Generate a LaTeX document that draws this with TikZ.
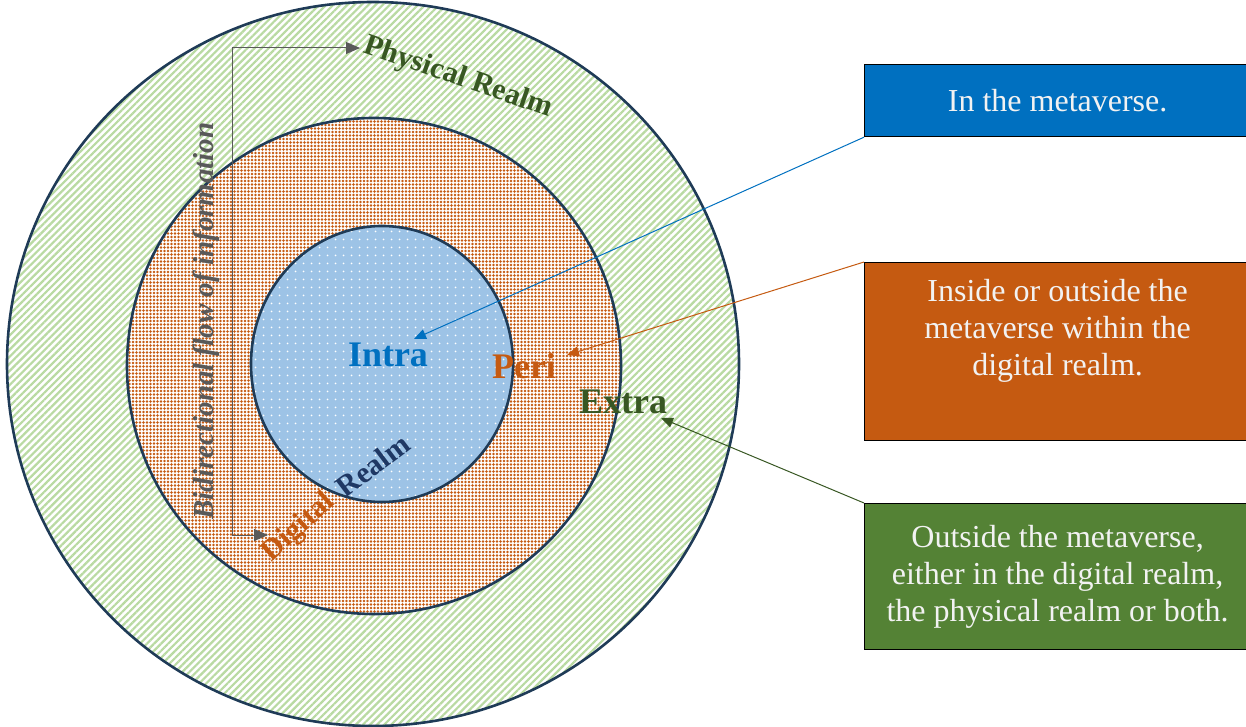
\documentclass[tikz,border=0pt]{standalone}
\usepackage{fontspec}
\setmainfont{Liberation Serif}
\usetikzlibrary{arrows.meta,patterns.meta}
\definecolor{ringline}{HTML}{1F3B57}
\definecolor{kblue}{HTML}{0070C0}
\definecolor{korange}{HTML}{C55A11}
\definecolor{kgreen}{HTML}{548235}
\definecolor{kdarkgreen}{HTML}{385723}
\definecolor{klightgreen}{HTML}{B9DAA2}
\definecolor{klightblue}{HTML}{9DC3E6}
\definecolor{knavy}{HTML}{1F3864}
\definecolor{kgray}{HTML}{595959}
\definecolor{ktext}{HTML}{F2F2F2}
\tikzset{
  ring/.style={draw=ringline, line width=1.3pt},
  boxtext/.style={align=center, text=ktext, font=\fontsize{16}{18.5}\selectfont},
  box/.style={boxtext, draw=black, line width=0.6pt, anchor=north west, minimum width=193pt, inner sep=0pt},
  kzone/.style={font=\fontsize{18}{20}\selectfont\bfseries},
  kring/.style={font=\fontsize{15}{17}\selectfont\bfseries},
  link/.style={-{Triangle[length=6pt, width=5pt]}, line width=0.5pt},
  flow/.style={{Triangle[length=7pt, width=6pt]}-{Triangle[length=7pt, width=6pt]}, line width=0.5pt, draw=kgray},
}
\begin{document}
\begin{tikzpicture}[x=0.5pt, y=-0.5pt]
    \useasboundingbox (0,0) rectangle (1246,727);
    \clip (0,0) rectangle (1246,727);
    \path[preaction={fill=white}, pattern={Lines[angle=45, distance=2.5pt, line width=1.1pt]}, pattern color=klightgreen, ring] (373,364) ellipse [x radius=366, y radius=362];
    \path[preaction={fill=white}, pattern={Dots[radius=0.7pt, distance=1.75pt]}, pattern color=korange, ring] (374,366) ellipse [x radius=247, y radius=248];
    \path[preaction={fill=klightblue}, pattern={Dots[radius=0.55pt, distance=4pt]}, pattern color=white, ring] (382,364) ellipse [x radius=131, y radius=138];
    \node[kzone, text=kblue] (intra) at (388,355) {Intra};
    \node[kzone, text=korange] (peri) at (524,366) {Peri};
    \node[kzone, text=kdarkgreen] (extra) at (623,402) {Extra};
    \node[kring, text=kdarkgreen, rotate=-19] (physical) at (458,78) {Physical Realm};
    \node[kring, text=korange, rotate=42, inner sep=1pt] (digital) at (299,528) {Digital};
    \node[kring, text=knavy, rotate=37, inner sep=1pt] (realm) at (373,465) {Realm};
    \node[font=\fontsize{14.5}{16}\selectfont\bfseries\itshape, text=kgray, rotate=90] (bidir) at (206,321) {Bidirectional flow of information};
    \node[box, fill=kblue, minimum height=36pt] (inBox) at (864,64) {In the metaverse.};
    \node[box, fill=korange, minimum height=89pt] (periBox) at (864,262) {};
    \node[boxtext] (periText) at ([yshift=10.5pt]periBox.center) {Inside or outside the\\metaverse within the\\digital realm.};
    \node[box, fill=kgreen, minimum height=73pt] (extraBox) at (864,503) {Outside the metaverse,\\either in the digital realm,\\the physical realm or both.};
    \coordinate (intraTip) at (414,339);
    \coordinate (periTip) at (567,355);
    \coordinate (extraTip) at (661,418);
    \coordinate (flowTop) at (360,48);
    \coordinate (flowBottom) at (268,535);
    \coordinate (flowCorner) at (232,535);
    \draw[link, draw=kblue] (inBox.south west) -- (intraTip);
    \draw[link, draw=korange] (periBox.north west) -- (periTip);
    \draw[link, draw=kdarkgreen] (extraBox.north west) -- (extraTip);
    \draw[flow] (flowBottom) -- (flowCorner) |- (flowTop);
  \end{tikzpicture}
\end{document}
